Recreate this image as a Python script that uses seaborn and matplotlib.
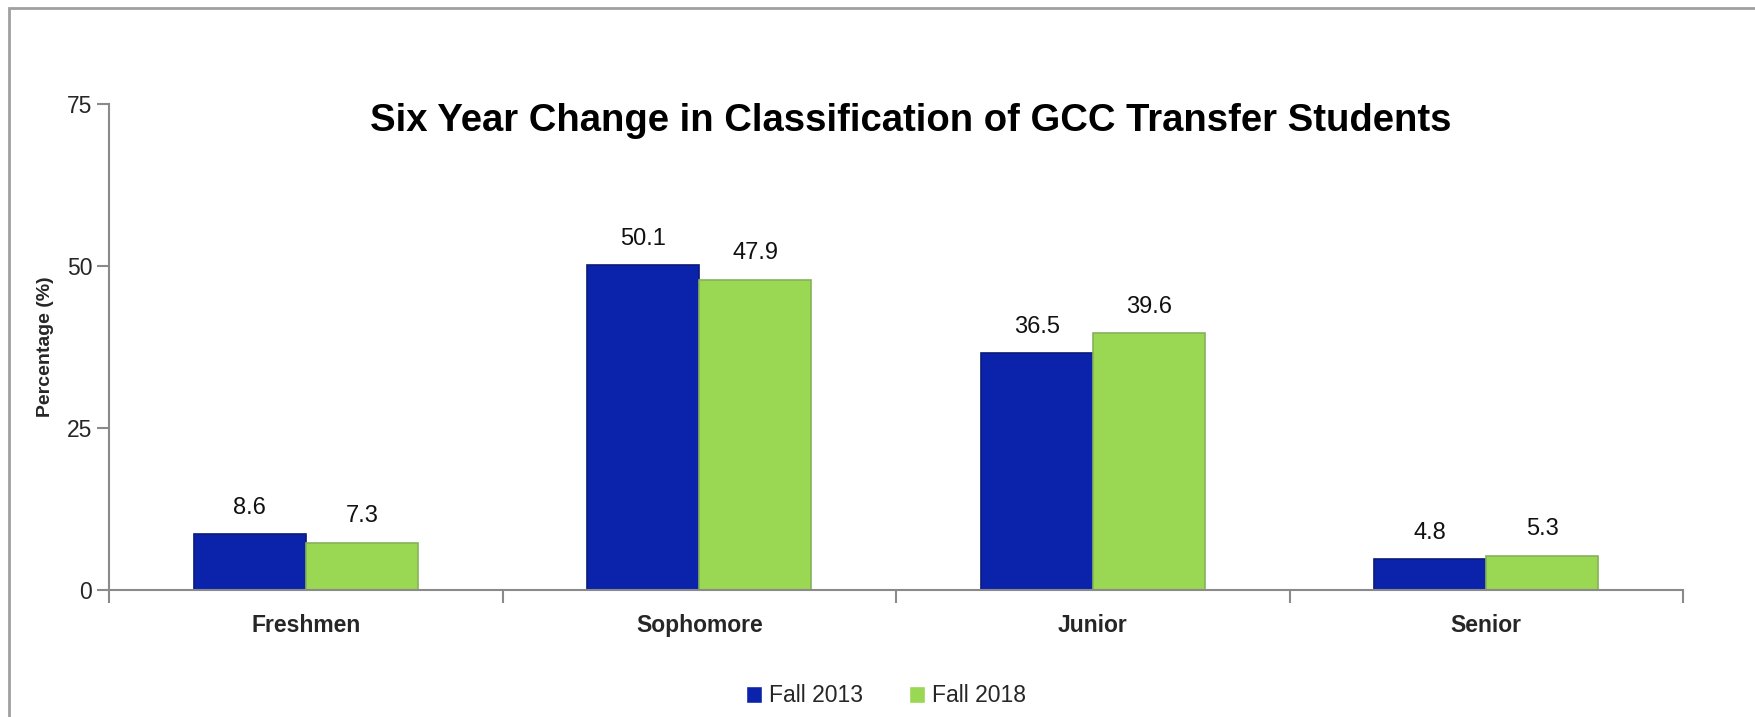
import matplotlib
matplotlib.use("Agg")
import matplotlib.pyplot as plt
import seaborn as sns
import pandas as pd
from matplotlib.patches import Rectangle

categories = ["Freshmen", "Sophomore", "Junior", "Senior"]
fall_2013 = [8.6, 50.1, 36.5, 4.8]
fall_2018 = [7.3, 47.9, 39.6, 5.3]
series_names = ["Fall 2013", "Fall 2018"]
y_ticks = [0, 25, 50, 75]

df = pd.DataFrame({
    "Classification": categories * 2,
    "Percentage": fall_2013 + fall_2018,
    "Term": [series_names[0]] * len(categories) + [series_names[1]] * len(categories),
})

sns.set_theme(style="white")
plt.rcParams["font.family"] = ["Liberation Sans", "DejaVu Sans"]

fig = plt.figure(figsize=(17.56, 7.17), dpi=100)
ax = fig.add_axes([109 / 1756, 1 - 590 / 717, (1683 - 109) / 1756, (590 - 104) / 717])

colors = {"Fall 2013": "#0b22ab", "Fall 2018": "#9ad752"}
edges = {"Fall 2013": "#0a1a7a", "Fall 2018": "#86b25a"}

sns.barplot(data=df, x="Classification", y="Percentage", hue="Term",
            order=categories, hue_order=series_names, palette=colors,
            width=0.57, gap=0, ax=ax, saturation=1, legend=True)

for cont, name in zip(ax.containers, series_names):
    for p in cont:
        p.set_edgecolor(edges[name])
        p.set_linewidth(1.2)
    ax.bar_label(cont, fmt="%.1f", padding=11, fontsize=17, color="#111111")

ax.set_ylim(0, 75)
ax.set_xlim(-0.5, len(categories) - 0.5)
ax.set_yticks(y_ticks)
ax.set_yticklabels([str(t) for t in y_ticks], fontsize=16.5)
ax.set_xticks(range(len(categories)))
ax.set_xticklabels(categories, fontsize=16.5, fontweight="bold")
ax.tick_params(axis="x", length=0, pad=17)
ax.set_xticks([i - 0.5 for i in range(len(categories) + 1)], minor=True)
ax.tick_params(axis="x", which="minor", length=9, width=1.5, color="#8a8a8a", direction="out", bottom=True)
ax.tick_params(axis="y", length=9, width=1.5, color="#8a8a8a", direction="out", left=True, pad=3)

ax.set_xlabel("")
ax.set_ylabel("Percentage (%)", fontsize=14, fontweight="bold", labelpad=9)

for s in ["top", "right"]:
    ax.spines[s].set_visible(False)
for s in ["left", "bottom"]:
    ax.spines[s].set_color("#8a8a8a")
    ax.spines[s].set_linewidth(1.5)

fig.text(911 / 1756, 1 - 121 / 717, "Six Year Change in Classification of GCC Transfer Students",
         ha="center", va="center", fontsize=27.5, fontweight="bold", color="#000000")

handles, labels = ax.get_legend_handles_labels()
ax.get_legend().remove()
fig.legend(handles, labels, loc="center", bbox_to_anchor=(886 / 1756, 1 - 696 / 717),
           ncol=2, frameon=False, fontsize=16.5, handlelength=0.7, handleheight=0.7,
           handletextpad=0.3, columnspacing=2.0)

frame = Rectangle((9 / 1756, -0.05), 1.2, 1.05 - 8 / 717, transform=fig.transFigure,
                  fill=False, edgecolor="#a0a0a0", linewidth=2, clip_on=False)
fig.patches.append(frame)

fig.savefig("out.png", dpi=100)
